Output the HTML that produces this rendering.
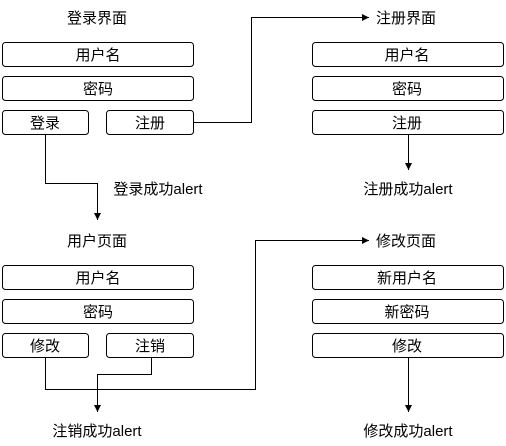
<!DOCTYPE html>
<html><head><meta charset="utf-8"><style>
html,body{margin:0;padding:0;background:#fff;}
svg{display:block;}
text{font-family:"Liberation Sans","Noto Sans CJK SC",sans-serif;font-size:15px;fill:#000;}
</style></head><body>
<svg width="506" height="446" viewBox="0 0 506 446" xmlns="http://www.w3.org/2000/svg">
<defs><marker id="a" markerWidth="8" markerHeight="8" refX="7" refY="4" orient="auto" markerUnits="userSpaceOnUse"><path d="M0,0.5 L7,4 L0,7.5 Z" fill="#000"/></marker></defs>
<g fill="#fff" stroke="#000" stroke-width="1">
<rect x="2.5" y="42.5" width="191" height="24" rx="3"/>
<rect x="2.5" y="76.5" width="191" height="24" rx="3"/>
<rect x="2.5" y="110.5" width="86" height="24" rx="3"/>
<rect x="106.5" y="110.5" width="87" height="24" rx="3"/>
<rect x="312.5" y="42.5" width="191" height="24" rx="3"/>
<rect x="312.5" y="76.5" width="191" height="24" rx="3"/>
<rect x="312.5" y="110.5" width="191" height="24" rx="3"/>
<rect x="2.5" y="265.5" width="191" height="24" rx="3"/>
<rect x="2.5" y="299.5" width="191" height="24" rx="3"/>
<rect x="2.5" y="333.5" width="86" height="24" rx="3"/>
<rect x="106.5" y="333.5" width="87" height="24" rx="3"/>
<rect x="312.5" y="265.5" width="191" height="24" rx="3"/>
<rect x="312.5" y="299.5" width="191" height="24" rx="3"/>
<rect x="312.5" y="333.5" width="191" height="24" rx="3"/>
</g>
<g fill="none" stroke="#000" stroke-width="1">
<path d="M194,122.5 H251.5 V17.5 H369" marker-end="url(#a)"/>
<path d="M45.5,135 V183.5 H97.5 V220" marker-end="url(#a)"/>
<path d="M408.5,135 V170" marker-end="url(#a)"/>
<path d="M45.5,358 V389.5 H255.5 V240.5 H369" marker-end="url(#a)"/>
<path d="M151.5,358 V374.5 H97.5 V412" marker-end="url(#a)"/>
<path d="M408.5,358 V412" marker-end="url(#a)"/>
</g>
<g text-anchor="middle">
<text x="97" y="23">登录界面</text>
<text x="98" y="60">用户名</text>
<text x="98" y="94">密码</text>
<text x="45" y="128">登录</text>
<text x="150" y="128">注册</text>
<text x="407" y="60">用户名</text>
<text x="407" y="94">密码</text>
<text x="407" y="128">注册</text>
<text x="158" y="194">登录成功alert</text>
<text x="408" y="194">注册成功alert</text>
<text x="97" y="246">用户页面</text>
<text x="98" y="283">用户名</text>
<text x="98" y="317">密码</text>
<text x="45" y="351">修改</text>
<text x="150" y="351">注销</text>
<text x="407" y="283">新用户名</text>
<text x="407" y="317">新密码</text>
<text x="407" y="351">修改</text>
<text x="97" y="436">注销成功alert</text>
<text x="408" y="436">修改成功alert</text>
</g>
<text x="376" y="23">注册界面</text>
<text x="376" y="246">修改页面</text>
</svg>
</body></html>
